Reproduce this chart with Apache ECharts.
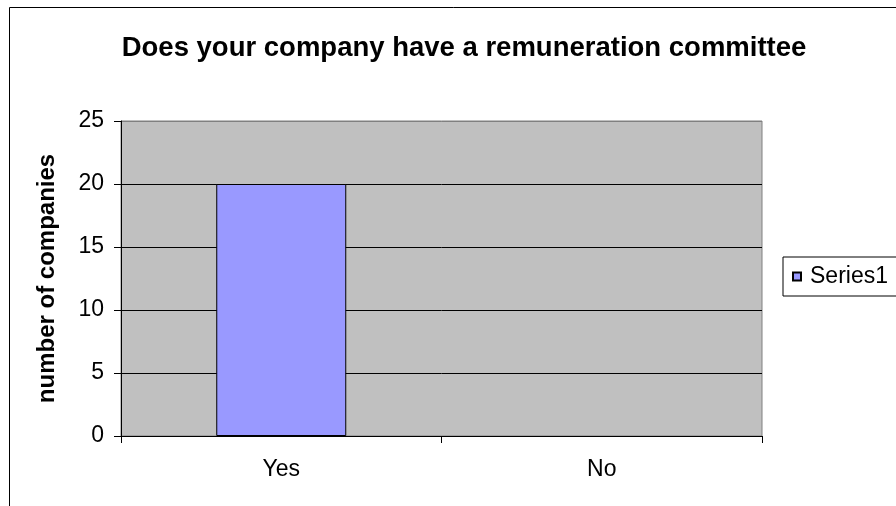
<!DOCTYPE html>
<html><head><meta charset="utf-8">
<script src="https://cdn.jsdelivr.net/npm/echarts@6/dist/echarts.min.js"></script>
<style>html,body{margin:0;padding:0;background:#fff}#c{width:896px;height:506px}</style>
</head><body><div id="c"></div>
<script>
const titleText = 'Does your company have a remuneration committee';
const categories = ['Yes', 'No'];
const seriesName = 'Series1';
const values = [20, 0];
const yTicks = { min: 0, max: 25, interval: 5 };
const yAxisName = 'number of companies';

const chart = echarts.init(document.getElementById('c'), null, { renderer: 'canvas' });
const font = 'Liberation Sans, Arial, sans-serif';
chart.setOption({
  animation: false,
  backgroundColor: '#fff',
  title: {
    text: titleText, left: 459, textAlign: 'center', top: 29,
    textStyle: { fontFamily: font, fontSize: 27.5, fontWeight: 'bold', color: '#000' }
  },
  graphic: [{
    type: 'rect', shape: { x: 9.5, y: 7.5, width: 1000, height: 1000 },
    style: { fill: 'none', stroke: '#000', lineWidth: 1 }, silent: true, z: 100
  }],
  legend: {
    data: [seriesName], left: 783, top: 257, orient: 'vertical',
    borderColor: '#000', borderWidth: 1, padding: [8, 30, 8, 9],
    icon: 'rect', itemWidth: 8, itemHeight: 8, itemGap: 0,
    textStyle: { fontFamily: font, fontSize: 23, color: '#000', padding: [0, 0, 0, 4] }
  },
  grid: {
    left: 121, top: 121, right: 134, bottom: 70, show: true,
    backgroundColor: '#C0C0C0', borderColor: '#808080', borderWidth: 1
  },
  xAxis: {
    type: 'category', data: categories, boundaryGap: true,
    axisLine: { show: true, lineStyle: { color: '#000', width: 1 } },
    axisTick: { show: true, length: 7, inside: false, alignWithLabel: false, lineStyle: { color: '#000' } },
    axisLabel: { fontFamily: font, fontSize: 23, color: '#000', margin: 22 },
    splitLine: { show: false }
  },
  yAxis: {
    type: 'value', min: yTicks.min, max: yTicks.max, interval: yTicks.interval,
    name: yAxisName, nameLocation: 'middle', nameGap: 62, nameRotate: 90,
    nameTextStyle: { fontFamily: font, fontSize: 24, fontWeight: 'bold', color: '#000' },
    axisLine: { show: true, lineStyle: { color: '#000', width: 1 } },
    axisTick: { show: true, length: 7, inside: false, lineStyle: { color: '#000' } },
    axisLabel: { fontFamily: font, fontSize: 23, color: '#000', margin: 17 },
    splitLine: { show: true, lineStyle: { color: ['#000', '#000', '#000', '#000', '#000', '#808080'], width: 1 } }
  },
  series: [{
    type: 'bar', name: seriesName, barWidth: 130,
    data: values.map(v => ({ value: v, itemStyle: { borderWidth: v === 0 ? 0 : 1 } })),
    itemStyle: { color: '#9999FF', borderColor: '#000', borderWidth: 1 }
  }]
});
</script></body></html>
